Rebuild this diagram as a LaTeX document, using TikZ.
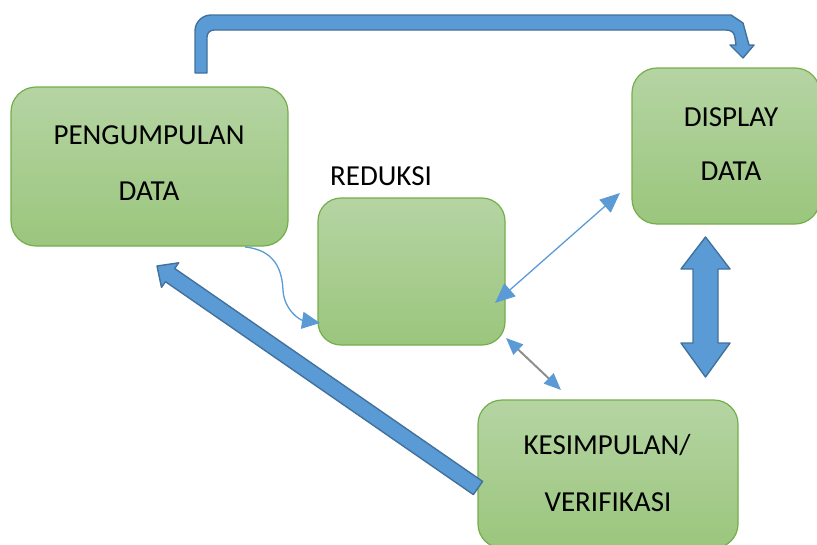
\documentclass[tikz,border=0pt]{standalone}
\usepackage{fontspec}
\setmainfont{Carlito}
\usetikzlibrary{arrows.meta}
\definecolor{boxtop}{HTML}{B5D4A3}
\definecolor{boxbot}{HTML}{9BC67D}
\definecolor{boxedge}{HTML}{74AE4B}
\definecolor{bfill}{HTML}{5B9BD5}
\definecolor{bedge}{HTML}{41719C}
\definecolor{gline}{HTML}{8F8F8F}
\tikzset{
  greenbox/.style={draw=boxedge, line width=1.2pt, top color=boxtop, bottom color=boxbot,
    rounded corners=25pt, inner sep=0pt},
  lbl/.style={font=\fontsize{29}{34}\selectfont, anchor=base, inner sep=0pt},
  blockarrow/.style={fill=bfill, draw=bedge, line width=1.4pt, line join=round},
  thinblue/.style={draw=bfill, line width=1.3pt},
}
\begin{document}
\begin{tikzpicture}[x=1pt,y=-1pt]
\useasboundingbox (0,0) rectangle (817,544);
\clip (0,0) rectangle (817,544);
% boxes
\node[greenbox, minimum width=277pt, minimum height=159pt] (peng) at (149.5,166.5) {};
\node[greenbox, rounded corners=23pt, minimum width=187pt, minimum height=147pt] (red) at (411.5,271.5) {};
\node[greenbox, minimum width=188pt, minimum height=156pt] (disp) at (726,146) {};
\node[greenbox, rounded corners=24pt, minimum width=260pt, minimum height=148pt] (kes) at (608,474) {};
% labels
\node[lbl] (t1) at (149,144) {PENGUMPULAN};
\node[lbl] (t2) at (149,200) {DATA};
\node[lbl] (t3) at (381,185) {REDUKSI};
\node[lbl] (t4) at (731,126) {DISPLAY};
\node[lbl] (t5) at (731,180) {DATA};
\node[lbl] (t6) at (607,454) {KESIMPULAN/};
\node[lbl] (t7) at (608,511) {VERIFIKASI};
% top bent block arrow
\draw[blockarrow] (195,73) -- (195,31) .. controls (195,22.2) and (202.2,15) .. (211,15) -- (731,15)
  -- (743,23) -- (749,45) -- (754,45) -- (743,58) -- (730,45) -- (736,45) -- (735,38)
  .. controls (734.5,33) and (732,30) .. (726,30) -- (214,30) .. controls (210,30) and (207,33) .. (207,37) -- (207,73) -- cycle;
% vertical double block arrow
\draw[blockarrow] (705.5,237) -- (730,269) -- (718,269) -- (718,343) -- (730,343) -- (705.5,377)
  -- (681,343) -- (693,343) -- (693,269) -- (681,269) -- cycle;
% diagonal block arrow
\draw[blockarrow] (157,266) -- (178.7,262.8) -- (174.7,268.5) -- (482.6,481.4) -- (473.4,494.6)
  -- (165.5,281.7) -- (161.5,287.4) -- cycle;
% thin connectors
\coordinate (c1) at (245,247);
\coordinate (c2) at (320,323);
\draw[thinblue, -{Triangle[length=18pt,width=17pt]}] (c1) .. controls (275,250) and (282,270) .. (283,290)
  .. controls (284,310) and (300,320) .. (c2);
\coordinate (rd1) at (495,303);
\coordinate (rd2) at (620,193);
\draw[thinblue, {Triangle[length=20pt,width=17pt]}-{Triangle[length=20pt,width=17pt]}] (rd1) -- (rd2);
\coordinate (rk1) at (506,338);
\coordinate (rk2) at (561,390);
\draw[draw=gline, line width=2pt, {Triangle[length=17pt,width=14pt,color=bfill]}-{Triangle[length=17pt,width=14pt,color=bfill]}] (rk1) -- (rk2);
\end{tikzpicture}
\end{document}
